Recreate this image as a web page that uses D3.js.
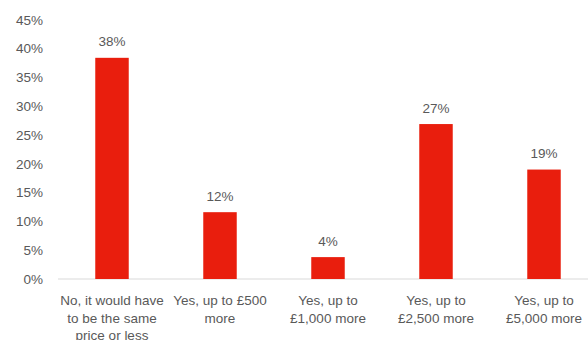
<!DOCTYPE html>
<html>
<head>
<meta charset="utf-8">
<script src="https://cdn.jsdelivr.net/npm/d3@7"></script>
<style>
  body { margin: 0; background: #fff; }
  text { font-family: "Liberation Sans", Arial, sans-serif; fill: #595959; }
</style>
</head>
<body>
<svg id="chart" width="588" height="340"></svg>
<script>
// categories, one string per bar, line breaks where the original wraps
const categories = [
    "No, it would have\nto be the same\nprice or less",
    "Yes, up to £500\nmore",
    "Yes, up to\n£1,000 more",
    "Yes, up to\n£2,500 more",
    "Yes, up to\n£5,000 more"
]
const values = [38.4, 11.6, 3.8, 26.9, 19.0]
const yTicks = [0, 5, 10, 15, 20, 25, 30, 35, 40, 45]

const svg = d3.select('#chart')
const plotLeft = 58, plotRight = 598, plotTop = 19.8, plotBottom = 279

const xScale = d3.scaleBand()
    .domain(categories)
    .range([plotLeft, plotRight])
    .paddingInner(0.69)
    .paddingOuter(0.345)

const yScale = d3.scaleLinear()
    .domain([0, 45])
    .range([plotBottom, plotTop])

// y axis labels only, no line
const yAxis = svg.append('g')
    .attr('transform', `translate(${plotLeft},0)`)
    .call(d3.axisLeft(yScale).tickValues(yTicks).tickFormat(d => d + '%').tickSize(0).tickPadding(15))
yAxis.select('.domain').remove()
yAxis.selectAll('text')
    .style('font-size', '13.5px')
    .style('font-family', '"Liberation Sans", Arial, sans-serif')
    .attr('fill', '#595959')

// baseline
svg.append('line')
    .attr('x1', plotLeft).attr('x2', 588)
    .attr('y1', yScale(0)).attr('y2', yScale(0))
    .attr('stroke', '#d9d9d9')
    .attr('stroke-width', 1)

// bars
svg.append('g')
    .selectAll('rect')
    .data(values)
    .enter()
    .append('rect')
        .attr('x', (d, i) => xScale(categories[i]))
        .attr('y', d => yScale(d))
        .attr('width', xScale.bandwidth())
        .attr('height', d => yScale(0) - yScale(d))
        .attr('fill', '#e91e0d')

// value labels
svg.append('g')
    .selectAll('text')
    .data(values)
    .enter()
    .append('text')
        .attr('x', (d, i) => xScale(categories[i]) + xScale.bandwidth() / 2)
        .attr('y', d => yScale(d) - 11.5)
        .attr('text-anchor', 'middle')
        .style('font-size', '13.5px')
        .text(d => Math.round(d) + '%')

// category labels, wrapped
categories.forEach(c => {
    const cx = xScale(c) + xScale.bandwidth() / 2
    const t = svg.append('text')
        .attr('text-anchor', 'middle')
        .style('font-size', '13.5px')
    c.split('\n').forEach((line, j) => {
        t.append('tspan')
            .attr('x', cx)
            .attr('y', 305 + j * 17.5)
            .text(line)
    })
})
</script>
</body>
</html>
